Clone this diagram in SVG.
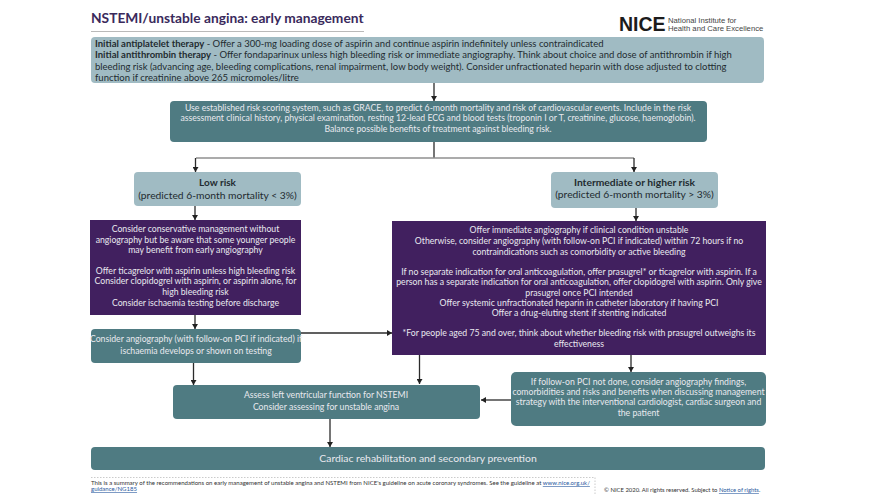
<svg xmlns="http://www.w3.org/2000/svg" width="880" height="495" viewBox="0 0 880 495">
<style>
text{font-family:Lato,"Open Sans","Liberation Sans",sans-serif;text-anchor:middle}
.light{fill:#a0bbc3}.teal{fill:#4f7b82}.purple{fill:#41205f}
.w{fill:#e9e9ef;font-size:8.7px}.k{fill:#1f2b30;font-size:9.5px}
.s{fill:#1f2b30;font-size:10.3px}
.l{text-anchor:start}.b{font-weight:700}
.c{stroke:#2b2b2b;stroke-width:1.3;fill:none}
.g{stroke:#8f8f8f;stroke-width:1.3;fill:none}
.d{stroke:#b5b5b5;stroke-width:.7;stroke-dasharray:1.5 1.5;fill:none}
.logo{font-family:"Liberation Sans",sans-serif}
</style>
<defs><marker id="a" markerWidth="6" markerHeight="6" refX="5" refY="3" orient="auto" markerUnits="userSpaceOnUse"><path d="M0 0L5 3L0 6Z" fill="#222"/></marker></defs>
<rect width="880" height="495" fill="#fff"/>
<g id="header">
<text class="l b" x="91" y="23" font-size="13.750" fill="#3a2a5c">NSTEMI/unstable angina: early management</text>
<line x1="91" y1="31.500" x2="364" y2="31.500" stroke="#a8a8a8" stroke-width=".8"/>
<text class="l b logo" x="619" y="31" font-size="19.500" fill="#1c1c1c">NICE</text>
<text class="l logo" x="668" y="23" font-size="7.700" fill="#444">National Institute for</text>
<text class="l logo" x="668" y="30.500" font-size="7.700" fill="#444">Health and Care Excellence</text>
</g>
<g id="connectors">
<path class="c" d="M434 83V101" marker-end="url(#a)"/>
<path class="c" d="M434 142V158"/>
<path class="g" d="M196 158H634"/>
<path class="c" d="M195.500 158V172" marker-end="url(#a)"/>
<path class="c" d="M634 158V172" marker-end="url(#a)"/>
<path class="c" d="M195 206V220" marker-end="url(#a)"/>
<path class="c" d="M636 208V221" marker-end="url(#a)"/>
<path class="c" d="M195 315V329" marker-end="url(#a)"/>
<path class="c" d="M301 333H392" marker-end="url(#a)"/>
<path class="c" d="M193.500 363V385" marker-end="url(#a)"/>
<path class="c" d="M419.500 355V384" marker-end="url(#a)"/>
<path class="c" d="M631 355V372" marker-end="url(#a)"/>
<path class="c" d="M511 400H481" marker-end="url(#a)"/>
<path class="c" d="M330 419V447" marker-end="url(#a)"/>
</g>
<g id="n-initial-therapy">
<rect class="light" x="91" y="37" width="673" height="46" rx="4"/>
<text class="k l" x="95" y="47"><tspan class="b">Initial antiplatelet therapy</tspan> - Offer a 300-mg loading dose of aspirin and continue aspirin indefinitely unless contraindicated</text>
<text class="k l" x="95" y="58"><tspan class="b">Initial antithrombin therapy</tspan> -  Offer fondaparinux unless high bleeding risk or immediate angiography. Think about choice and dose of antithrombin if high</text>
<text class="k l" x="95" y="69.500">bleeding risk (advancing age, bleeding complications, renal impairment, low body weight). Consider unfractionated heparin with dose adjusted to clotting</text>
<text class="k l" x="95" y="81">function if creatinine above 265 micromoles/litre</text>
</g>
<g id="n-risk-scoring">
<rect class="teal" x="170" y="101" width="537" height="41" rx="4"/>
<text class="w" x="438" y="111">Use established risk scoring system, such as GRACE, to predict 6-month mortality and risk of cardiovascular events. Include in the risk</text>
<text class="w" x="438" y="121">assessment clinical history, physical examination, resting 12-lead ECG and blood tests (troponin I or T, creatinine,  glucose, haemoglobin).</text>
<text class="w" x="438" y="132">Balance possible benefits of treatment against bleeding risk.</text>
</g>
<g id="n-low-risk">
<rect class="light" x="134" y="172" width="167" height="34" rx="4"/>
<text class="k b" x="217.500" y="186" style="font-size:10px">Low risk</text>
<text class="s" x="217.500" y="199">(predicted 6-month mortality &lt; 3%)</text>
</g>
<g id="n-intermediate-risk">
<rect class="light" x="551" y="172" width="167" height="36" rx="4"/>
<text class="k b" x="634.500" y="186" style="font-size:10.300px">Intermediate or higher risk</text>
<text class="s" x="634.500" y="198">(predicted 6-month mortality &gt; 3%)</text>
</g>
<g id="n-conservative">
<rect class="purple" x="90" y="220" width="211" height="95"/>
<text class="w" x="195.500" y="232">Consider conservative management without</text>
<text class="w" x="195.500" y="243">angiography but be aware that some younger people</text>
<text class="w" x="195.500" y="253">may benefit from early angiography</text>
<text class="w" x="195.500" y="273.500">Offer ticagrelor with aspirin unless high bleeding risk</text>
<text class="w" x="195.500" y="284">Consider clopidogrel with aspirin, or aspirin alone, for</text>
<text class="w" x="195.500" y="294.500">high bleeding risk</text>
<text class="w" x="195.500" y="306">Consider ischaemia testing before discharge</text>
</g>
<g id="n-angiography">
<rect class="purple" x="392" y="221" width="374" height="134"/>
<text class="w" x="579" y="233">Offer immediate angiography if clinical condition unstable</text>
<text class="w" x="579" y="243.500">Otherwise, consider angiography (with follow-on PCI if indicated) within 72 hours if no</text>
<text class="w" x="579" y="254.500">contraindications such as comorbidity or active bleeding</text>
<text class="w" x="579" y="274.500">If no separate indication for oral anticoagulation, offer prasugrel* or ticagrelor with aspirin. If a</text>
<text class="w" x="579" y="285">person has a separate indication for oral anticoagulation, offer clopidogrel with aspirin. Only give</text>
<text class="w" x="579" y="295.500">prasugrel once PCI intended</text>
<text class="w" x="579" y="305.500">Offer systemic unfractionated heparin in catheter laboratory if having PCI</text>
<text class="w" x="579" y="316">Offer a drug-eluting stent if stenting indicated</text>
<text class="w" x="579" y="336">*For people aged 75 and over, think about whether bleeding risk with prasugrel outweighs its</text>
<text class="w" x="579" y="347">effectiveness</text>
</g>
<g id="n-consider-angiography">
<rect class="teal" x="91" y="329" width="210" height="34" rx="4"/>
<text class="w" x="196" y="342">Consider angiography (with follow-on PCI if indicated) if</text>
<text class="w" x="196" y="354">ischaemia develops or shown on testing</text>
</g>
<g id="n-assess">
<rect class="teal" x="173" y="385" width="307" height="34" rx="4"/>
<text class="w" x="326" y="397.500">Assess left ventricular function for NSTEMI</text>
<text class="w" x="326" y="410">Consider assessing for unstable angina</text>
</g>
<g id="n-follow-on">
<rect class="teal" x="511" y="372" width="255" height="54" rx="5"/>
<text class="w" x="638.500" y="385">If follow-on PCI not done, consider angiography findings,</text>
<text class="w" x="638.500" y="395">comorbidities and risks and benefits when discussing management</text>
<text class="w" x="638.500" y="405">strategy with the interventional cardiologist, cardiac surgeon and</text>
<text class="w" x="638.500" y="416">the patient</text>
</g>
<g id="n-rehab">
<rect class="teal" x="91" y="447" width="674" height="23" rx="4"/>
<text x="428" y="461.500" font-size="10.400" fill="#e9e9ef">Cardiac rehabilitation and secondary prevention</text>
</g>
<g id="footer">
<path class="d" d="M91 477.500H595V495"/>
<text class="l" x="91" y="485" font-size="6.050" fill="#333">This is a summary of the recommendations on early management of unstable angina and NSTEMI from NICE's guideline on acute coronary syndromes. See the guideline at <tspan fill="#2a5aa0" text-decoration="underline">www.nice.org.uk/</tspan></text>
<text class="l" x="91" y="491" font-size="6.050" fill="#2a5aa0" text-decoration="underline">guidance/NG185</text>
<text class="l" x="604" y="492" font-size="5.900" fill="#333">© NICE 2020. All rights reserved. Subject to <tspan fill="#2a5aa0" text-decoration="underline">Notice of rights</tspan>.</text>
</g>
</svg>
